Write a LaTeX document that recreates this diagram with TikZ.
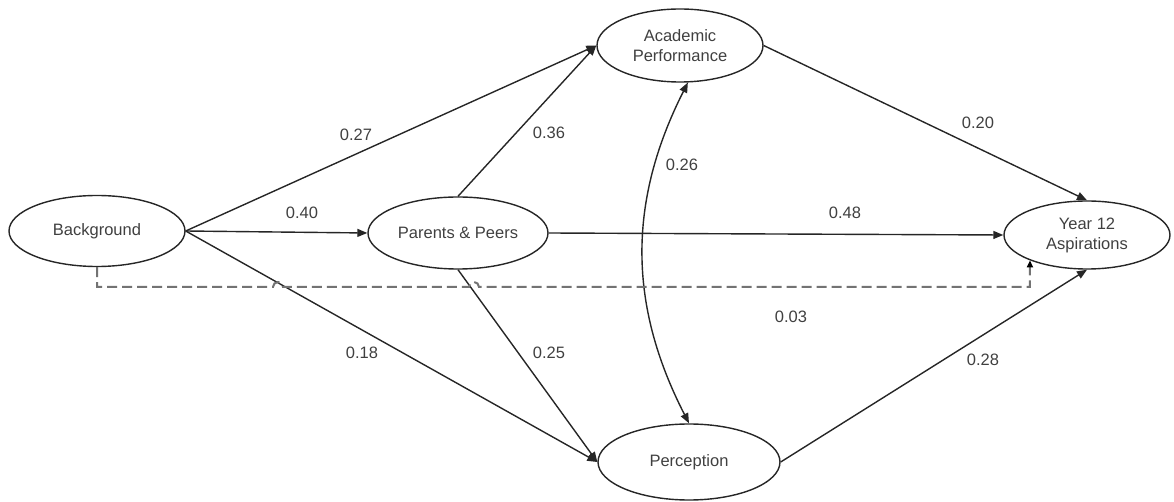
\documentclass[tikz,border=0pt]{standalone}
\usepackage{fontspec}
\setmainfont{Liberation Sans}
\usetikzlibrary{shapes.geometric,arrows.meta}
\begin{document}
\begin{tikzpicture}[x=0.5pt,y=-0.5pt,
  var/.style={ellipse,draw=black!85,line width=0.7pt,inner sep=0pt,align=center,
    font=\fontsize{8.25}{10}\selectfont,text=black!75},
  conn/.style={draw=black!85,line width=0.7pt,-{Triangle[length=5pt,width=4pt]}},
  corr/.style={draw=black!85,line width=0.7pt,{Triangle[length=5pt,width=4pt]}-{Triangle[length=5pt,width=4pt]}},
  coef/.style={font=\fontsize{8.25}{10}\selectfont,text=black!75,inner sep=0pt},
  dconn/.style={draw=black!55,line width=1pt,dash pattern=on 5pt off 2.5pt,
    -{Triangle[length=3.5pt,width=3pt,color=black]}}
]
\useasboundingbox (0,0) rectangle (1174,502);

\node[var,minimum width=88pt,minimum height=35.5pt] (bg) at (97,231) {Background};
\node[var,minimum width=90pt,minimum height=36pt] (pp) at (458,233) {Parents \& Peers};
\node[var,minimum width=83pt,minimum height=36.5pt] (ap) at (680,45.5) {Academic\\Performance};
\node[var,minimum width=91pt,minimum height=38pt] (per) at (689,462) {Perception};
\node[var,minimum width=83pt,minimum height=34pt] (y12) at (1087,235) {Year 12\\Aspirations};

\draw[conn] (bg.east) -- (ap.west);
\draw[conn] (bg.east) -- (pp.west);
\draw[conn] (bg.east) -- (per.west);
\draw[conn] (pp.north) -- (ap.west);
\draw[conn] (pp.south) -- (per.west);
\draw[conn] (pp.east) -- (y12.west);
\draw[conn] (ap.east) -- (y12.north);
\draw[conn] (per.east) -- (y12.south);
\draw[corr] (ap.-78) to[bend right=27] (per.north);

\coordinate (dl) at (0,287);
\coordinate (h1) at (273,287);
\coordinate (h2) at (469,287);
\draw[dconn] (bg.south) -- (bg.south |- dl) -- (h1) arc[start angle=180,end angle=0,radius=2.5pt]
  -- (h2) arc[start angle=180,end angle=0,radius=2.5pt]
  -- (y12.-156 |- dl) -- (y12.-156);

\node[coef] (l27) at (356,135) {0.27};
\node[coef] (l36) at (549,133) {0.36};
\node[coef] (l26) at (682,165) {0.26};
\node[coef] (l20) at (978,123) {0.20};
\node[coef] (l40) at (302,213) {0.40};
\node[coef] (l48) at (845,213) {0.48};
\node[coef] (l03) at (791,317) {0.03};
\node[coef] (l18) at (362,353) {0.18};
\node[coef] (l25) at (549,353) {0.25};
\node[coef] (l28) at (983,360) {0.28};
\end{tikzpicture}
\end{document}
